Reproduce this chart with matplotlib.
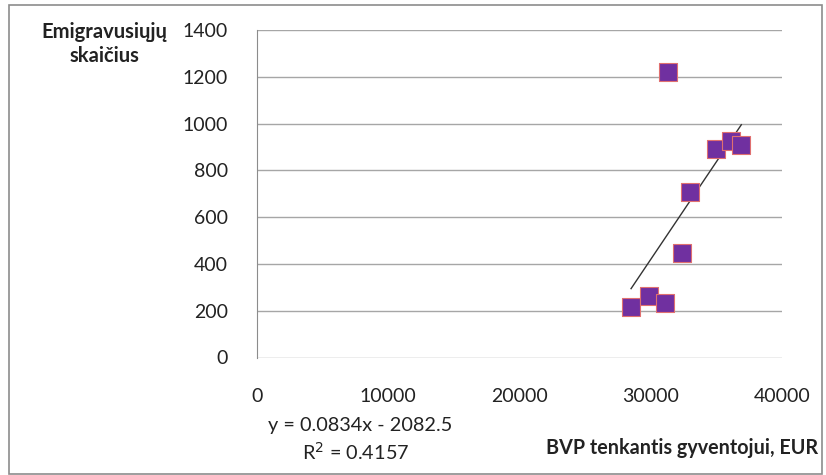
import matplotlib
matplotlib.use("Agg")
import matplotlib.pyplot as plt
from matplotlib.patches import Rectangle
import numpy as np

plt.rcParams['font.family'] = ['Lato', 'DejaVu Sans']

gdp = [31300, 35000, 36100, 36900, 33000, 32400, 28500, 29900, 31100]
emigrants = [1220, 890, 925, 907, 706, 445, 217, 263, 232]
slope, intercept = 0.0834, -2082.5
r2 = 0.4157
x_ticks = [0, 10000, 20000, 30000, 40000]
y_ticks = [0, 200, 400, 600, 800, 1000, 1200, 1400]

W, H = 826, 475
fig = plt.figure(figsize=(W / 100, H / 100), dpi=100)
fig.patches.append(Rectangle((9 / W, 1 / H), 813 / W, 1 - 6 / H, transform=fig.transFigure,
                             fill=False, edgecolor='#8c8c8c', linewidth=1.2))

ax = fig.add_axes([257 / W, 1 - 357.5 / H, 525 / W, 327.5 / H])
ax.set_xlim(0, 40000)
ax.set_ylim(0, 1400)
ax.set_xticks(x_ticks)
ax.set_yticks(y_ticks)
ax.set_xticklabels([str(v) for v in x_ticks])
ax.set_yticklabels([str(v) for v in y_ticks])
ax.grid(axis='y', color='#a6a6a6', linewidth=1.0)
ax.set_axisbelow(True)
for s in ['top', 'right', 'bottom']:
    ax.spines[s].set_visible(False)
ax.spines['left'].set_color('#8c8c8c')
ax.tick_params(axis='both', length=0, labelsize=14, colors='#222222')
ax.tick_params(axis='y', pad=21)
ax.tick_params(axis='x', pad=22)

xs = np.array([min(gdp), max(gdp)])
ax.plot(xs, slope * xs + intercept, color='#333333', linewidth=1.0, zorder=3)
ax.scatter(gdp, emigrants, marker='s', s=150, color='#7030A0', edgecolor='#e07070',
           linewidth=0.8, zorder=4)

fig.text(104 / W, 1 - 44 / H, 'Emigravusiųjų\nskaičius', ha='center', va='center',
         fontsize=14.5, fontweight='bold', color='#222222', linespacing=1.25)
fig.text(360 / W, 1 - 426 / H, 'y = 0.0834x - 2082.5', ha='center', va='center',
         fontsize=14.3, color='#222222')
fig.text(356 / W, 1 - 452 / H, 'R$^2$ = 0.4157', ha='center', va='center',
         fontsize=14.3, color='#222222')
fig.text(818 / W, 1 - 448 / H, 'BVP tenkantis gyventojui, EUR', ha='right', va='center',
         fontsize=14.2, fontweight='bold', color='#222222')

fig.savefig('out.png', dpi=100)
